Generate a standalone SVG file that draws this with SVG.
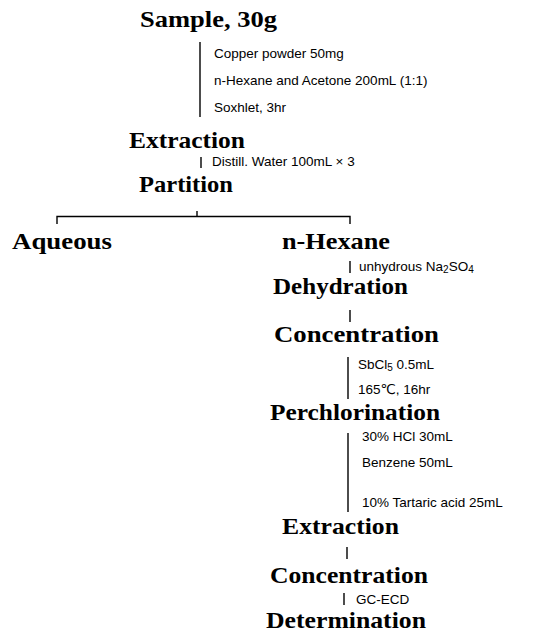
<svg xmlns="http://www.w3.org/2000/svg" width="538" height="635" viewBox="0 0 538 635">
<style>
.n{font-family:"Liberation Serif","DejaVu Serif",serif;font-weight:bold;font-size:23px;fill:#000}
.s{font-family:"Liberation Sans","DejaVu Sans",sans-serif;font-size:13.5px;fill:#000}
.c line,.c path{stroke:#000;stroke-width:1.4;fill:none}
</style>
<rect width="538" height="635" fill="#fff"/>
<g class="c" id="connectors">
<line x1="200" y1="42" x2="200" y2="117"/>
<line x1="201" y1="157" x2="201" y2="168"/>
<path d="M57 224 V216.5 H350 V224"/>
<line x1="197" y1="211" x2="197" y2="216.5"/>
<line x1="350" y1="261" x2="350" y2="273"/>
<line x1="350" y1="310" x2="350" y2="322"/>
<line x1="348" y1="357" x2="348" y2="399"/>
<line x1="348" y1="433" x2="348" y2="512"/>
<line x1="347" y1="547" x2="347" y2="559"/>
<line x1="344" y1="593" x2="344" y2="605"/>
</g>
<g id="sample"><text class="n" x="140" y="27" textLength="137" lengthAdjust="spacingAndGlyphs">Sample, 30g</text></g>
<g id="step1"><text class="s" x="214" y="58">Copper powder 50mg</text><text class="s" x="214" y="85">n-Hexane and Acetone 200mL (1:1)</text><text class="s" x="214" y="112">Soxhlet, 3hr</text></g>
<g id="extraction1"><text class="n" x="129" y="148" textLength="116" lengthAdjust="spacingAndGlyphs">Extraction</text></g>
<g id="step2"><text class="s" x="212" y="166">Distill. Water 100mL × 3</text></g>
<g id="partition"><text class="n" x="139" y="192" textLength="94" lengthAdjust="spacingAndGlyphs">Partition</text></g>
<g id="aqueous"><text class="n" x="12" y="249" textLength="100" lengthAdjust="spacingAndGlyphs">Aqueous</text></g>
<g id="hexane"><text class="n" x="282" y="249" textLength="108" lengthAdjust="spacingAndGlyphs">n-Hexane</text></g>
<g id="step3"><text class="s" x="359" y="271">unhydrous Na<tspan font-size="10" dy="2">2</tspan><tspan dy="-2">SO</tspan><tspan font-size="10" dy="2">4</tspan></text></g>
<g id="dehydration"><text class="n" x="273" y="294" textLength="135" lengthAdjust="spacingAndGlyphs">Dehydration</text></g>
<g id="concentration1"><text class="n" x="274" y="342" textLength="165" lengthAdjust="spacingAndGlyphs">Concentration</text></g>
<g id="step4"><text class="s" x="358" y="369">SbCl<tspan font-size="10" dy="2">5</tspan><tspan dy="-2"> 0.5mL</tspan></text><text class="s" x="358" y="394">165℃, 16hr</text></g>
<g id="perchlorination"><text class="n" x="270" y="420" textLength="170" lengthAdjust="spacingAndGlyphs">Perchlorination</text></g>
<g id="step5"><text class="s" x="362" y="441">30% HCl 30mL</text><text class="s" x="362" y="467">Benzene 50mL</text><text class="s" x="362" y="507">10% Tartaric acid 25mL</text></g>
<g id="extraction2"><text class="n" x="282" y="534" textLength="117" lengthAdjust="spacingAndGlyphs">Extraction</text></g>
<g id="concentration2"><text class="n" x="270" y="583" textLength="158" lengthAdjust="spacingAndGlyphs">Concentration</text></g>
<g id="step6"><text class="s" x="356" y="604">GC-ECD</text></g>
<g id="determination"><text class="n" x="266" y="628" textLength="160" lengthAdjust="spacingAndGlyphs">Determination</text></g>
</svg>
